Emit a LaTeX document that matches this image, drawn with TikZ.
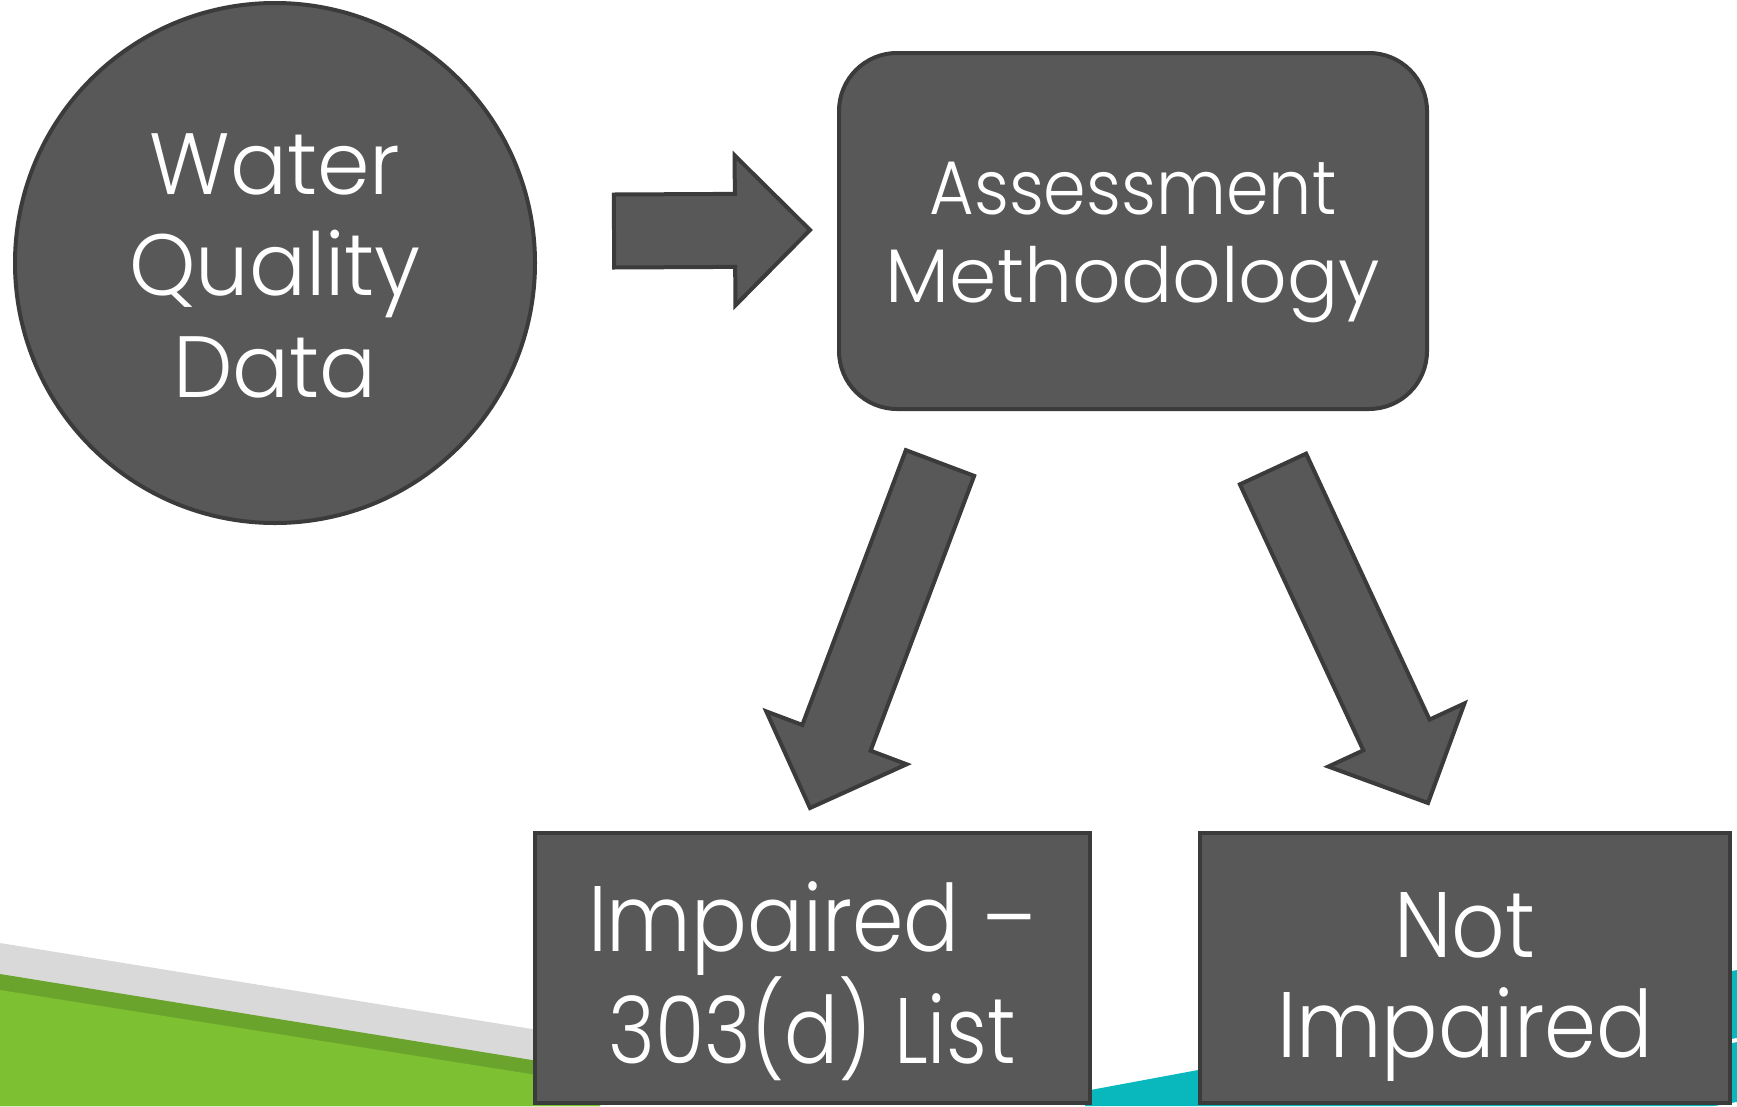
\documentclass[tikz,border=0pt]{standalone}
\usepackage{fontspec}
\setmainfont{Poppins Light}
\usetikzlibrary{positioning,calc}
\definecolor{boxFill}{RGB}{88,88,88}
\definecolor{boxLine}{RGB}{59,59,59}
\definecolor{slideGrey}{RGB}{217,217,217}
\definecolor{slideGreen}{RGB}{125,192,50}
\definecolor{slideDarkGreen}{RGB}{106,164,44}
\definecolor{slideTeal}{RGB}{8,184,189}
\tikzstyle{slide} = [x = 1pt, y = -1pt]
\tikzstyle{shapeStyle} = [draw=boxLine, fill=boxFill, line width=4pt, text=white, align=center]
\tikzstyle{arrowStyle} = [draw=boxLine, fill=boxFill, line width=4pt, line join=miter]
% struts fix the first baseline and the last depth of a label
\newcommand{\topStrut}[1]{\rule{0pt}{#1}}
\newcommand{\botStrut}[1]{\rule[-#1]{0pt}{#1}}
\newcommand{\narrow}[2]{{\addfontfeatures{FakeStretch=#1}#2}}
\newcommand{\shaftW}{36.5pt}
\newcommand{\headW}{75pt}
\newcommand{\headL}{75pt}
\newcommand{\blockArrow}[2]{
  \coordinate (#1neck) at ($(#2)!\headL!(#1)$);
  \filldraw [arrowStyle] ($(#1)!\shaftW!90:(#2)$) -- ($(#1neck)!\shaftW!-90:(#1)$)
    -- ($(#1neck)!\headW!-90:(#1)$) -- (#2) -- ($(#1neck)!\headW!90:(#1)$)
    -- ($(#1neck)!\shaftW!90:(#1)$) -- ($(#1)!\shaftW!-90:(#2)$) -- cycle;
}

\begin{document}
\begin{tikzpicture}[slide]
        \useasboundingbox (0,0) rectangle (1737,1106);
        % background stripes
        \fill [slideGrey] (0,943) -- (600,1040) -- (600,1106) -- (0,1106) -- cycle;
        \fill [slideDarkGreen] (0,974) -- (600,1071) -- (600,1106) -- (0,1106) -- cycle;
        \fill [slideGreen] (0,990) -- (600,1085) -- (600,1106) -- (0,1106) -- cycle;
        \fill [slideTeal] (1085,1091) -- (1737,970) -- (1737,1106) -- (1085,1106) -- cycle;
        \draw [white, line width=4pt] (1500,1083) -- (1737,1040);
        \draw [white, line width=4pt] (1650,1120) -- (1737,1104);

        \node [shapeStyle, circle, minimum size=520pt,
          font=\fontsize{87}{101.5}\selectfont\addfontfeatures{FakeStretch=0.97}]
          (waterData) at (275,263) {\topStrut{75pt}Water\\Quality\\Data\botStrut{10pt}};
        \node [shapeStyle, rounded corners=58pt, minimum width=588pt, minimum height=356pt,
          font=\fontsize{76}{88}\selectfont] (method) at (1133,231)
          {\topStrut{81pt}\narrow{0.9}{Assessment}\\Methodology\botStrut{26pt}};
        \node [shapeStyle, minimum width=555pt, minimum height=270pt,
          font=\fontsize{93}{100}\selectfont\addfontfeatures{FakeStretch=0.89}] (impaired) at (812,968)
          {\topStrut{111pt}Impaired --\\\narrow{0.86}{303(d) List}\botStrut{32pt}};
        \node [shapeStyle, minimum width=530pt, minimum height=270pt,
          font=\fontsize{93}{100}\selectfont\addfontfeatures{FakeStretch=0.9}] (notImpaired) at (1465,968)
          {\topStrut{111pt}Not\\Impaired\botStrut{32pt}};

        % block arrows
        \coordinate (dataTail) at (614,231);
        \coordinate (dataTip) at (810,230);
        \coordinate (leftTail) at (940,463);
        \coordinate (leftTip) at (810,808);
        \coordinate (rightTail) at (1273,469);
        \coordinate (rightTip) at (1428,803);
        \blockArrow{dataTail}{dataTip}
        \blockArrow{leftTail}{leftTip}
        \blockArrow{rightTail}{rightTip}
\end{tikzpicture}
\end{document}
